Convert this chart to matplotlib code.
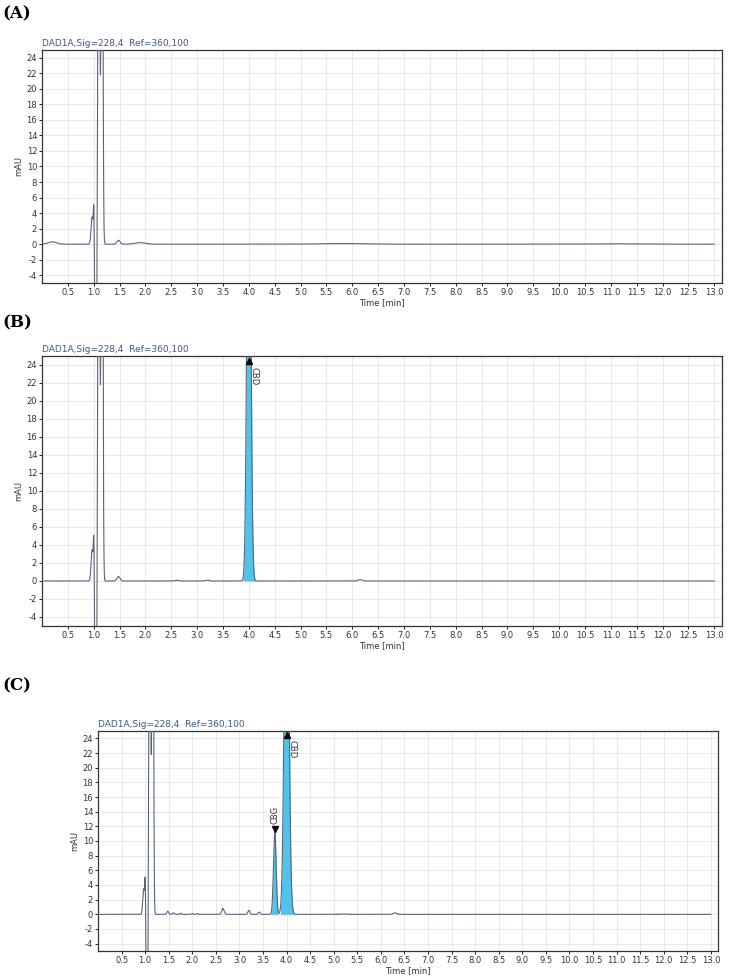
import numpy as np
import matplotlib
matplotlib.use("Agg")
import matplotlib.pyplot as plt

W, H = 734, 977
# peak tables: retention time, height (mAU), width (sigma, min)
peaksA_t = [0.2, 0.97, 1.0, 1.04, 1.1, 1.16, 1.48, 1.9, 5.8, 11.0]
peaksA_h = [0.3, 3.5, 4.0, -40, 80, 80, 0.5, 0.2, 0.08, 0.05]
peaksA_w = [0.08, 0.02, 0.008, 0.012, 0.015, 0.015, 0.03, 0.1, 0.4, 0.4]

peaksB_t = [0.97, 1.0, 1.04, 1.1, 1.16, 1.48, 2.6, 3.2, 4.0, 6.15]
peaksB_h = [3.5, 4.0, -40, 80, 80, 0.5, 0.08, 0.1, 60, 0.15]
peaksB_w = [0.02, 0.008, 0.012, 0.015, 0.015, 0.03, 0.03, 0.03, 0.035, 0.04]

peaksC_t = [0.97, 1.0, 1.04, 1.1, 1.16, 1.48, 1.6, 1.75, 2.0, 2.1, 2.65, 3.2, 3.42, 3.75, 4.0, 5.2, 6.3]
peaksC_h = [3.5, 4.0, -40, 80, 80, 0.4, 0.2, 0.15, 0.1, 0.1, 0.8, 0.55, 0.3, 11.3, 60, 0.05, 0.2]
peaksC_w = [0.02, 0.008, 0.012, 0.015, 0.015, 0.02, 0.02, 0.015, 0.015, 0.015, 0.025, 0.02, 0.02, 0.028, 0.045, 0.05, 0.04]

xticks = [0.5 * i for i in range(1, 27)]
yticks = list(range(-4, 25, 2))
title = "DAD1A,Sig=228,4  Ref=360,100"
line_c = "#5a6478"
fill_c = "#4fc3ea"

fig = plt.figure(figsize=(W / 100, H / 100), dpi=100)

def trace(ts, hs, ws, x):
    y = np.zeros_like(x)
    for t, h, w in zip(ts, hs, ws):
        y += h * np.exp(-0.5 * ((x - t) / w) ** 2)
    return y

def panel(rect_px, label, label_y, ts, hs, ws, fills, annots):
    l, t, r, b = rect_px
    ax = fig.add_axes([l / W, 1 - b / H, (r - l) / W, (b - t) / H])
    ax.set_axisbelow(True)
    x = np.linspace(0, 13.0, 6000)
    y = trace(ts, hs, ws, x)
    for (a, bnd) in fills:
        m = (x >= a) & (x <= bnd)
        ax.fill_between(x[m], 0, y[m], color=fill_c, lw=0, zorder=2)
    ax.plot(x, y, color=line_c, lw=0.8, zorder=3)
    for (xt, yt, name, marker) in annots:
        ax.plot([xt], [yt], marker=marker, color="black", ms=5, clip_on=False, zorder=4)
        if marker == "^":
            ax.text(xt + 0.02, yt - 0.6, name, rotation=-90, fontsize=6, color="#333333",
                    va="top", ha="left")
        else:
            ax.text(xt - 0.1, yt + 0.7, name, rotation=90, fontsize=6, color="#333333",
                    va="bottom", ha="left")
    ax.set_xlim(0, 13.15)
    ax.set_ylim(-5, 25)
    ax.set_xticks(xticks)
    ax.set_xticklabels([f"{v:.1f}" for v in xticks], fontsize=6, color="#333333")
    ax.set_yticks(yticks)
    ax.set_yticklabels([str(v) for v in yticks], fontsize=6, color="#333333")
    ax.grid(True, which="major", color="#dfe6ee", lw=0.6)
    ax.tick_params(length=2, width=0.6, pad=1.5)
    for s in ax.spines.values():
        s.set_linewidth(0.9)
        s.set_color("#333333")
    ax.set_xlabel("Time [min]", fontsize=6, labelpad=1, color="#333333")
    ax.set_ylabel("mAU", fontsize=6, labelpad=2, color="#333333")
    ax.set_title(title, fontsize=6.5, color="#3d5a80", loc="left", pad=3)
    fig.text(2 / W, 1 - label_y / H, label, fontsize=12, fontweight="bold",
             family="DejaVu Serif", va="center")
    return ax

panel((42, 50, 722, 283), "(A)", 14, peaksA_t, peaksA_h, peaksA_w, [], [])
panel((42, 356, 722, 626), "(B)", 323, peaksB_t, peaksB_h, peaksB_w,
      [(3.88, 4.12)], [(4.0, 24.4, "CBD", "^")])
panel((98, 731, 718, 951), "(C)", 686, peaksC_t, peaksC_h, peaksC_w,
      [(3.67, 3.83), (3.87, 4.17)], [(4.0, 24.4, "CBD", "^"), (3.75, 11.6, "CBG", "v")])

fig.savefig("out.png", dpi=100)
